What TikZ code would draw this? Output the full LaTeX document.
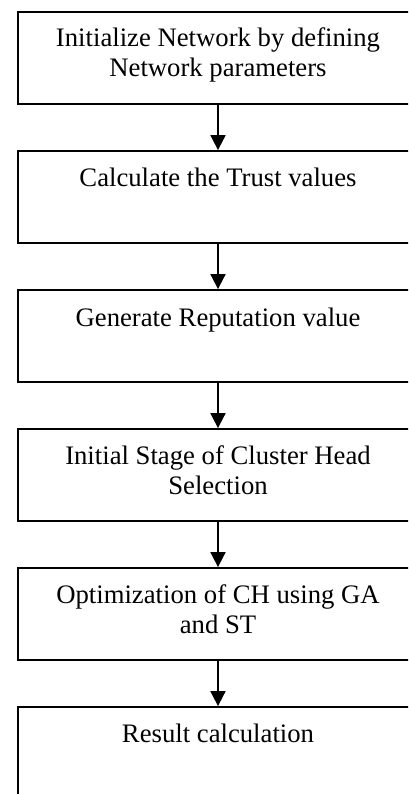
\documentclass[tikz,border=0pt]{standalone}
\usepackage{fontspec}
\setmainfont{Liberation Serif}
\usetikzlibrary{arrows.meta}
\begin{document}
\begin{tikzpicture}[x=1pt,y=-1pt,
  stepbox/.style={draw,line width=1.8pt,minimum width=400pt,minimum height=92pt,inner sep=0pt},
  steptext/.style={anchor=base,align=center,inner sep=0pt,font=\fontsize{26.7}{30}\selectfont},
  flow/.style={line width=1.8pt,-{Triangle[width=15pt,length=15pt]}}]
\useasboundingbox (0,0) rectangle (408,794);
\begin{scope}
\clip (0,0) rectangle (408,794);
\node[stepbox] (b1) at (218,58) {};
\node[stepbox] (b2) at (218,197) {};
\node[stepbox] (b3) at (218,336) {};
\node[stepbox] (b4) at (218,475) {};
\node[stepbox] (b5) at (218,614) {};
\node[stepbox] (b6) at (218,753) {};
\node[steptext] (t1) at (218,77) {Initialize Network by defining\\Network parameters};
\node[steptext] (t2) at (218,187) {Calculate the Trust values};
\node[steptext] (t3) at (218,326) {Generate Reputation value};
\node[steptext] (t4) at (218,494) {Initial Stage of Cluster Head\\Selection};
\node[steptext] (t5) at (218,633) {Optimization of CH using GA\\and ST};
\node[steptext] (t6) at (218,742) {Result calculation};
\draw[flow] (b1) -- (b2);
\draw[flow] (b2) -- (b3);
\draw[flow] (b3) -- (b4);
\draw[flow] (b4) -- (b5);
\draw[flow] (b5) -- (b6);
\end{scope}
\end{tikzpicture}
\end{document}
